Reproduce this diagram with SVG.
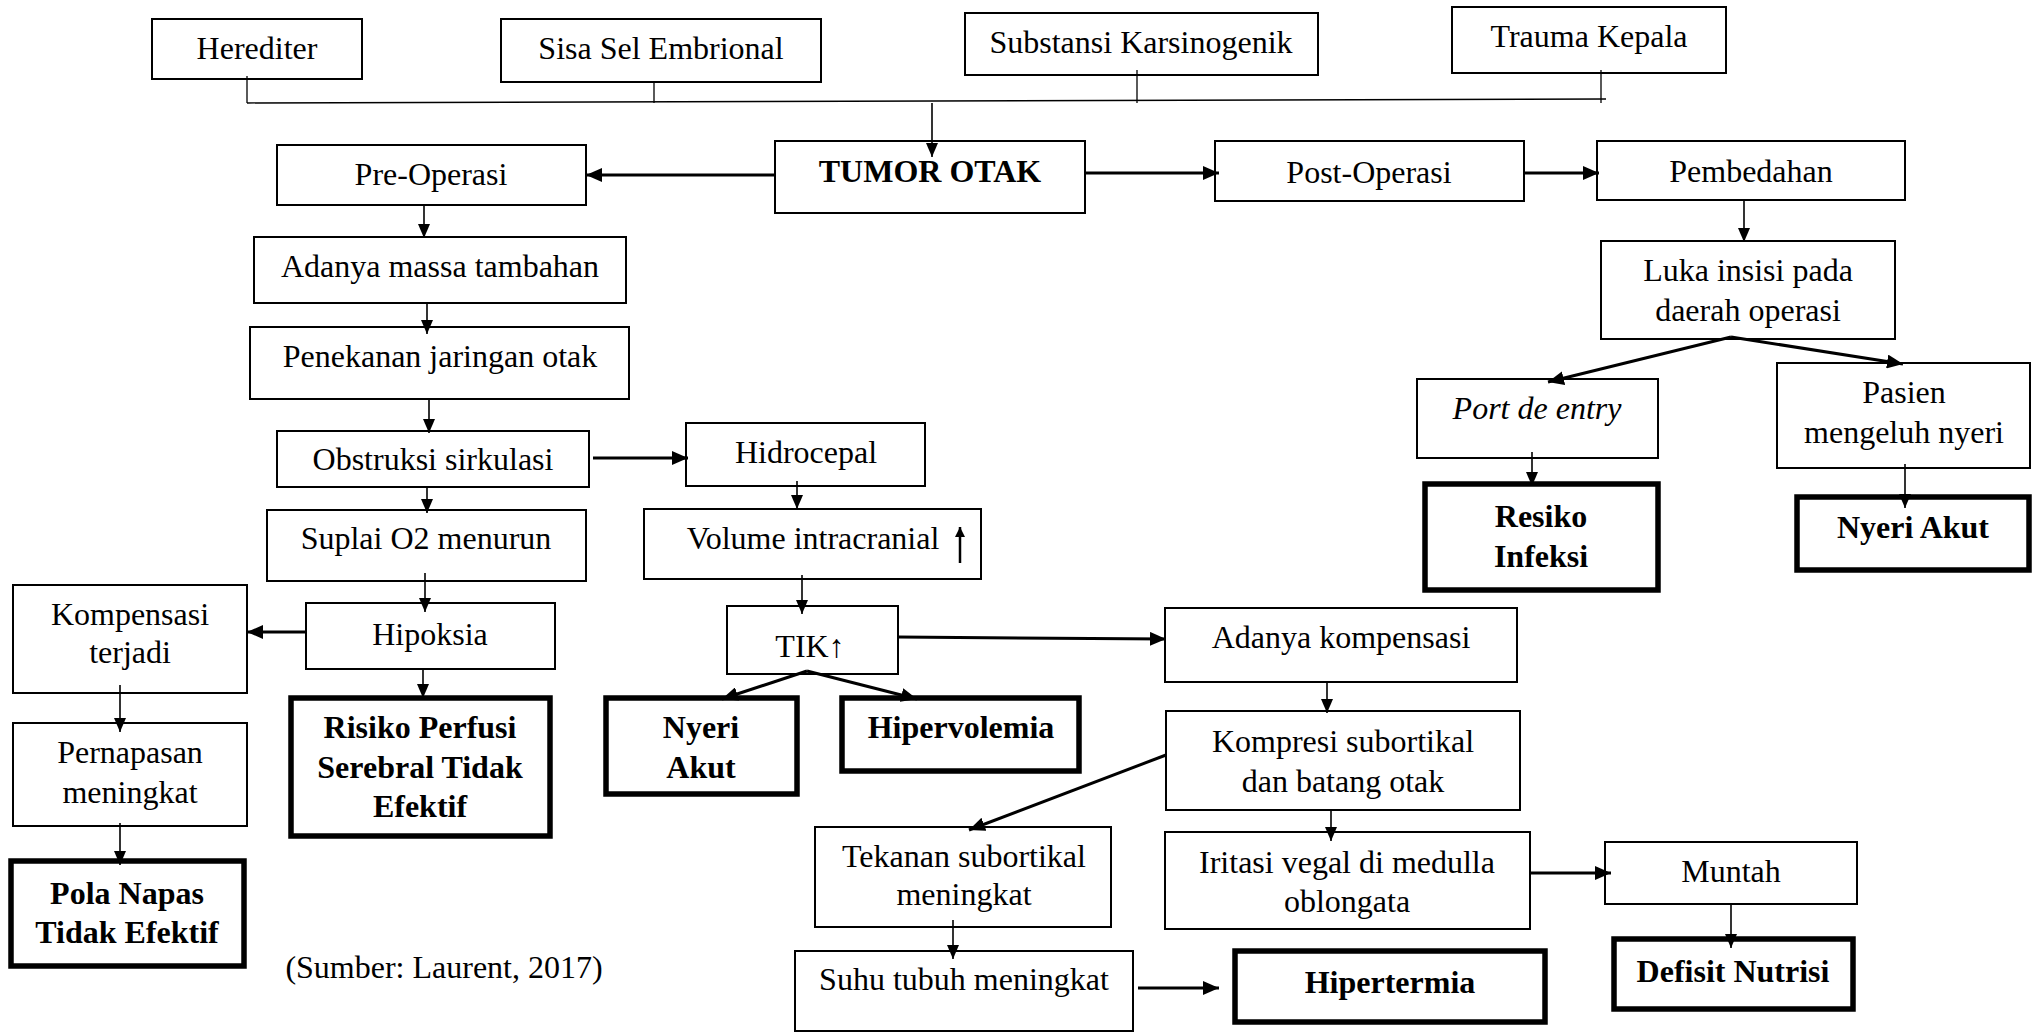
<svg xmlns="http://www.w3.org/2000/svg" width="2042" height="1032" viewBox="0 0 2042 1032">
<style>
text{font-family:"Liberation Serif","Times New Roman",serif;font-size:32px;fill:#000;text-anchor:middle}
.b{font-weight:bold}
.i{font-style:italic}
.box{fill:#fff;stroke:#000;stroke-width:2}
.tk{fill:#fff;stroke:#000;stroke-width:5.5}
.ln{fill:none;stroke:#000;stroke-width:1.6}
.th{fill:none;stroke:#000;stroke-width:3}
.bus{fill:none;stroke:#000;stroke-width:1.3}
</style>
<defs>
<marker id="ah" markerUnits="userSpaceOnUse" markerWidth="14" markerHeight="12" refX="14" refY="6" orient="auto"><path d="M0,0 L14,6 L0,12 z" fill="#000"/></marker>
<marker id="ahT" markerUnits="userSpaceOnUse" markerWidth="16" markerHeight="14" refX="16" refY="7" orient="auto"><path d="M0,0 L16,7 L0,14 z" fill="#000"/></marker>
<marker id="ahS" markerUnits="userSpaceOnUse" markerWidth="10" markerHeight="10" refX="10" refY="5" orient="auto"><path d="M0,0 L10,5 L0,10 z" fill="#000"/></marker>
</defs>

<g id="herediter"><rect class="box" x="152" y="19" width="210" height="60"/><text x="257" y="59">Herediter</text></g>
<g id="sisa-sel"><rect class="box" x="501" y="19" width="320" height="63"/><text x="661" y="59">Sisa Sel Embrional</text></g>
<g id="substansi"><rect class="box" x="965" y="13" width="353" height="62"/><text x="1141" y="53">Substansi Karsinogenik</text></g>
<g id="trauma"><rect class="box" x="1452" y="7" width="274" height="66"/><text x="1589" y="47">Trauma Kepala</text></g>
<g id="tumor-otak"><rect class="box" x="775" y="141" width="310" height="72"/><text class="b" x="930" y="182">TUMOR OTAK</text></g>
<g id="pre-operasi"><rect class="box" x="277" y="145" width="309" height="60"/><text x="431" y="185">Pre-Operasi</text></g>
<g id="post-operasi"><rect class="box" x="1215" y="141" width="309" height="60"/><text x="1369" y="183">Post-Operasi</text></g>
<g id="pembedahan"><rect class="box" x="1597" y="141" width="308" height="59"/><text x="1751" y="182">Pembedahan</text></g>
<g id="luka-insisi"><rect class="box" x="1601" y="241" width="294" height="98"/><text x="1748" y="281">Luka insisi pada</text><text x="1748" y="321">daerah operasi</text></g>
<g id="port-de-entry"><rect class="box" x="1417" y="379" width="241" height="79"/><text class="i" x="1537" y="419">Port de entry</text></g>
<g id="pasien-nyeri"><rect class="box" x="1777" y="363" width="253" height="105"/><text x="1904" y="403">Pasien</text><text x="1904" y="443">mengeluh nyeri</text></g>
<g id="resiko-infeksi"><rect class="tk" x="1425" y="484" width="233" height="106"/><text class="b" x="1541" y="527">Resiko</text><text class="b" x="1541" y="567">Infeksi</text></g>
<g id="nyeri-akut-2"><rect class="tk" x="1797" y="497" width="232" height="73"/><text class="b" x="1913" y="538">Nyeri Akut</text></g>
<g id="adanya-massa"><rect class="box" x="254" y="237" width="372" height="66"/><text x="440" y="277">Adanya massa tambahan</text></g>
<g id="penekanan"><rect class="box" x="250" y="327" width="379" height="72"/><text x="440" y="367">Penekanan jaringan otak</text></g>
<g id="obstruksi"><rect class="box" x="277" y="431" width="312" height="56"/><text x="433" y="470">Obstruksi sirkulasi</text></g>
<g id="hidrocepal"><rect class="box" x="686" y="423" width="239" height="63"/><text x="806" y="463">Hidrocepal</text></g>
<g id="suplai-o2"><rect class="box" x="267" y="510" width="319" height="71"/><text x="426" y="549">Suplai O2 menurun</text></g>
<g id="volume-intracranial"><rect class="box" x="644" y="509" width="337" height="70"/><text x="813" y="549">Volume intracranial</text><line x1="960" y1="563" x2="960" y2="527" stroke="#000" stroke-width="2.5" marker-end="url(#ahS)"/></g>
<g id="kompensasi-terjadi"><rect class="box" x="13" y="585" width="234" height="108"/><text x="130" y="625">Kompensasi</text><text x="130" y="663">terjadi</text></g>
<g id="hipoksia"><rect class="box" x="306" y="603" width="249" height="66"/><text x="430" y="645">Hipoksia</text></g>
<g id="tik"><rect class="box" x="727" y="606" width="171" height="68"/><text x="810" y="657">TIK↑</text></g>
<g id="risiko-perfusi"><rect class="tk" x="291" y="698" width="259" height="138"/><text class="b" x="420" y="738">Risiko Perfusi</text><text class="b" x="420" y="778">Serebral Tidak</text><text class="b" x="420" y="817">Efektif</text></g>
<g id="nyeri-akut-1"><rect class="tk" x="606" y="698" width="191" height="96"/><text class="b" x="701" y="738">Nyeri</text><text class="b" x="701" y="778">Akut</text></g>
<g id="hipervolemia"><rect class="tk" x="842" y="698" width="237" height="73"/><text class="b" x="961" y="738">Hipervolemia</text></g>
<g id="pernapasan"><rect class="box" x="13" y="723" width="234" height="103"/><text x="130" y="763">Pernapasan</text><text x="130" y="803">meningkat</text></g>
<g id="pola-napas"><rect class="tk" x="11" y="861" width="233" height="105"/><text class="b" x="127" y="904">Pola Napas</text><text class="b" x="127" y="943">Tidak Efektif</text></g>
<g id="adanya-kompensasi"><rect class="box" x="1165" y="608" width="352" height="74"/><text x="1341" y="648">Adanya kompensasi</text></g>
<g id="kompresi"><rect class="box" x="1166" y="711" width="354" height="99"/><text x="1343" y="752">Kompresi subortikal</text><text x="1343" y="792">dan batang otak</text></g>
<g id="tekanan"><rect class="box" x="815" y="827" width="296" height="100"/><text x="964" y="867">Tekanan subortikal</text><text x="964" y="905">meningkat</text></g>
<g id="iritasi"><rect class="box" x="1165" y="832" width="365" height="97"/><text x="1347" y="873">Iritasi vegal di medulla</text><text x="1347" y="912">oblongata</text></g>
<g id="muntah"><rect class="box" x="1605" y="842" width="252" height="62"/><text x="1731" y="882">Muntah</text></g>
<g id="defisit-nutrisi"><rect class="tk" x="1614" y="939" width="239" height="70"/><text class="b" x="1733" y="982">Defisit Nutrisi</text></g>
<g id="suhu"><rect class="box" x="795" y="951" width="338" height="80"/><text x="964" y="990">Suhu tubuh meningkat</text></g>
<g id="hipertermia"><rect class="tk" x="1235" y="951" width="310" height="71"/><text class="b" x="1390" y="993">Hipertermia</text></g>
<text x="444" y="978">(Sumber: Laurent, 2017)</text>

<g id="connectors">
<line class="bus" x1="247" y1="76" x2="247" y2="103"/>
<line class="bus" x1="654" y1="82" x2="654" y2="103"/>
<line class="bus" x1="1137" y1="70" x2="1137" y2="103"/>
<line class="bus" x1="1601" y1="70" x2="1601" y2="103"/>
<line class="bus" x1="247" y1="103" x2="1606" y2="99"/>
<line class="ln" x1="932" y1="103" x2="932" y2="157" marker-end="url(#ah)"/>
<line class="th" x1="775" y1="175" x2="586" y2="175" marker-end="url(#ahT)"/>
<line class="th" x1="1085" y1="173" x2="1219" y2="173" marker-end="url(#ahT)"/>
<line class="th" x1="1524" y1="173" x2="1599" y2="173" marker-end="url(#ahT)"/>
<line class="ln" x1="1744" y1="200" x2="1744" y2="242" marker-end="url(#ah)"/>
<line class="th" x1="1731" y1="337" x2="1548" y2="382" marker-end="url(#ahT)"/>
<line class="th" x1="1731" y1="337" x2="1903" y2="364" marker-end="url(#ahT)"/>
<line class="ln" x1="1532" y1="452" x2="1532" y2="486" marker-end="url(#ah)"/>
<line class="ln" x1="1905" y1="464" x2="1905" y2="508" marker-end="url(#ah)"/>
<line class="ln" x1="424" y1="205" x2="424" y2="238" marker-end="url(#ah)"/>
<line class="ln" x1="427" y1="303" x2="427" y2="334" marker-end="url(#ah)"/>
<line class="ln" x1="429" y1="399" x2="429" y2="433" marker-end="url(#ah)"/>
<line class="th" x1="593" y1="458" x2="688" y2="458" marker-end="url(#ahT)"/>
<line class="ln" x1="427" y1="487" x2="427" y2="513" marker-end="url(#ah)"/>
<line class="ln" x1="797" y1="481" x2="797" y2="509" marker-end="url(#ah)"/>
<line class="ln" x1="802" y1="575" x2="802" y2="614" marker-end="url(#ah)"/>
<line class="ln" x1="425" y1="573" x2="425" y2="612" marker-end="url(#ah)"/>
<line class="th" x1="306" y1="632" x2="247" y2="632" marker-end="url(#ahT)"/>
<line class="ln" x1="423" y1="669" x2="423" y2="698" marker-end="url(#ah)"/>
<line class="ln" x1="120" y1="685" x2="120" y2="732" marker-end="url(#ah)"/>
<line class="ln" x1="120" y1="823" x2="120" y2="865" marker-end="url(#ah)"/>
<line class="th" x1="807" y1="671" x2="722" y2="699" marker-end="url(#ahT)"/>
<line class="th" x1="807" y1="671" x2="917" y2="699" marker-end="url(#ahT)"/>
<line class="th" x1="898" y1="637" x2="1166" y2="639" marker-end="url(#ahT)"/>
<line class="ln" x1="1327" y1="682" x2="1327" y2="713" marker-end="url(#ah)"/>
<line class="th" x1="1166" y1="755" x2="969" y2="830" marker-end="url(#ahT)"/>
<line class="ln" x1="1331" y1="810" x2="1331" y2="841" marker-end="url(#ah)"/>
<line class="th" x1="1530" y1="873" x2="1611" y2="873" marker-end="url(#ahT)"/>
<line class="ln" x1="1731" y1="904" x2="1731" y2="948" marker-end="url(#ah)"/>
<line class="ln" x1="953" y1="920" x2="953" y2="959" marker-end="url(#ah)"/>
<line class="th" x1="1138" y1="988" x2="1219" y2="988" marker-end="url(#ahT)"/>
</g>
</svg>
